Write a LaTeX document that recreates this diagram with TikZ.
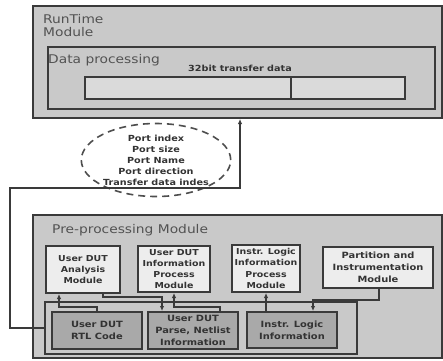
\documentclass[tikz,border=0pt]{standalone}
\usepackage{fontspec}
\setmainfont{DejaVu Sans}[FakeStretch=1.15]
\usetikzlibrary{shapes.geometric,arrows.meta}
\definecolor{edge}{HTML}{3A3A3A}
\definecolor{bgouter}{HTML}{C9C9C9}
\definecolor{topfill}{HTML}{EDEDED}
\definecolor{botfill}{HTML}{A9A9A9}
\definecolor{barfill}{HTML}{DADADA}
\definecolor{txt}{HTML}{333333}
\tikzset{
  panel/.style={draw=edge,line width=2pt,fill=bgouter,inner sep=0,anchor=center},
  topbox/.style={draw=edge,line width=2pt,fill=topfill,inner sep=0,anchor=center,align=center,
     font=\bfseries\fontsize{8.2}{11.2}\selectfont,text=txt},
  botbox/.style={draw=edge,line width=2pt,fill=botfill,inner sep=0,anchor=center,align=center,
     font=\bfseries\fontsize{8.6}{11.8}\selectfont,text=txt},
  barbox/.style={draw=edge,line width=2pt,fill=barfill,inner sep=0,anchor=center},
  title/.style={font=\fontsize{12}{13}\selectfont,text=txt!85!white,inner sep=0,anchor=west,align=left},
  conn/.style={draw=edge,line width=1.6pt},
  arr/.style={conn,-{Latex[length=5pt,width=4.5pt]}},
}
\begin{document}
\begin{tikzpicture}[x=1pt,y=-1pt]
\useasboundingbox (0,0) rectangle (443,360);
% RunTime module
\node[panel,minimum width=409,minimum height=112] (rt) at (237.5,62) {};
\node[title] (rttitle) at (43,25.5) {RunTime\\Module};
\node[panel,minimum width=387,minimum height=62] (dp) at (241.5,78) {};
\node[title] (dptitle) at (48,60) {Data processing};
\node[font=\bfseries\fontsize{8.4}{10}\selectfont,text=txt,inner sep=0] (bits) at (240,68) {32bit transfer data};
\node[barbox,minimum width=206,minimum height=22] (bar1) at (188,88) {};
\node[barbox,minimum width=114,minimum height=22] (bar2) at (348,88) {};
% ellipse
\node[ellipse,draw=edge!90!white,line width=1.6pt,dash pattern=on 7pt off 5pt,minimum width=142,minimum height=73,
  inner sep=0,align=center,font=\bfseries\fontsize{8.4}{11}\selectfont,text=txt] (ell) at (156,160)
  {Port index\\Port size\\Port Name\\Port direction\\Transfer data indes};
% Pre-processing module
\node[panel,minimum width=409,minimum height=143] (pp) at (237.5,286.5) {};
\node[title] (pptitle) at (52,230) {Pre-processing Module};
\node[topbox,minimum width=74,minimum height=47] (b1) at (83,269.5) {User DUT\\Analysis\\Module};
\node[topbox,minimum width=72,minimum height=46] (b2) at (174,269) {User DUT\\Information\\Process\\Module};
\node[topbox,minimum width=68,minimum height=47] (b3) at (266,268.5) {Instr. Logic\\Information\\Process\\Module};
\node[topbox,minimum width=110,minimum height=41,font=\bfseries\fontsize{8.6}{11.8}\selectfont] (b4) at (378,267.5) {Partition and\\Instrumentation\\Module};
\node[panel,minimum width=312,minimum height=52] (ct) at (201,328) {};
\node[botbox,minimum width=90,minimum height=37] (rtl) at (97,330.5) {User DUT\\RTL Code};
\node[botbox,minimum width=90,minimum height=37] (parse) at (193,330.5) {User DUT\\Parse, Netlist\\Information};
\node[botbox,minimum width=90,minimum height=36] (info) at (292,330) {Instr. Logic\\Information};
% connectors
\coordinate (j1) at (59,307);
\draw[arr] (rtl.north) |- (j1) -- (j1 |- b1.south);
\coordinate (j2a) at (103,297);
\coordinate (j2b) at (162,297);
\draw[arr] (j2a |- b1.south) -- (j2a) -- (j2b) -- (j2b |- parse.north);
\coordinate (j3) at (220,307);
\draw[arr] (j3 |- parse.north) -- (j3) -| (b2.south);
\draw[arr] (b3.south |- info.north) -- (b3.south);
\coordinate (j5a) at (379,300);
\coordinate (j5b) at (313,300);
\draw[arr] (j5a |- b4.south) -- (j5a) -- (j5b) -- (j5b |- info.north);
\coordinate (m1) at (10,188);
\coordinate (m2) at (240,188);
\draw[arr] (ct.west) -| (m1) -- (m2) -- (m2 |- rt.south);
\end{tikzpicture}
\end{document}
